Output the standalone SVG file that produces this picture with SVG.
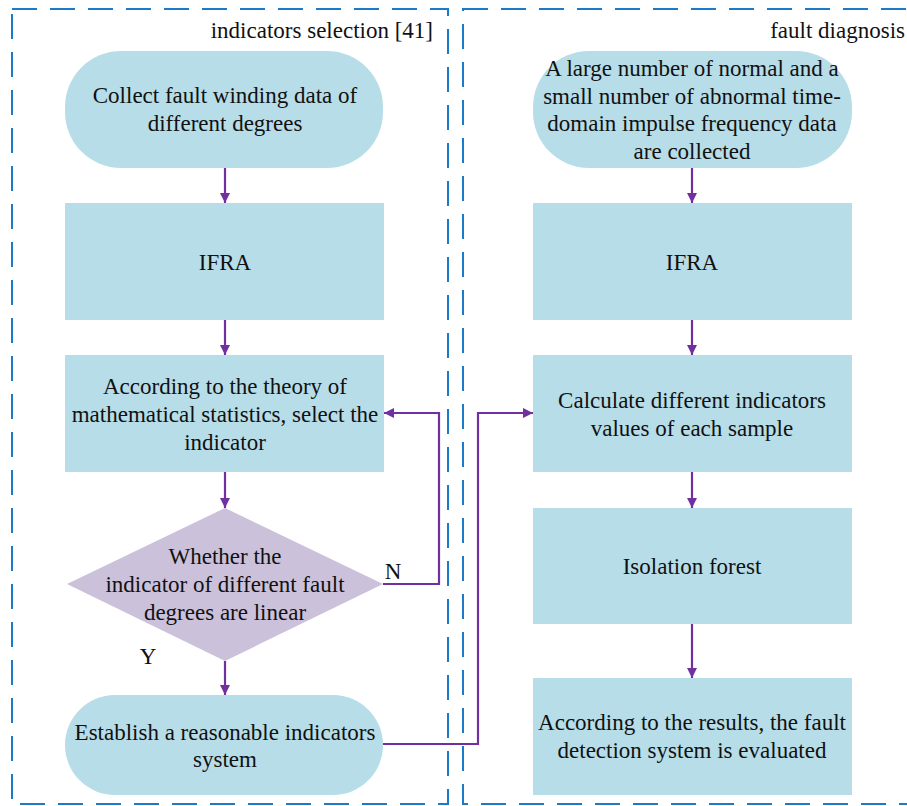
<svg xmlns="http://www.w3.org/2000/svg" width="907" height="806" viewBox="0 0 907 806">
<style>
.t{font-family:'Liberation Serif','Times New Roman',serif;font-size:23px;fill:#111;text-anchor:middle}
.n{fill:#B7DDE8;stroke:none}
.d{fill:#CCC1DA;stroke:none}
.c{fill:none;stroke:#7030A0;stroke-width:2.2}
.b{fill:none;stroke:#1B7BC8;stroke-width:2;stroke-dasharray:25 13}
</style>
<defs>
<marker id="ah" viewBox="0 0 10 10" refX="10" refY="5" markerWidth="10" markerHeight="10" markerUnits="userSpaceOnUse" orient="auto">
<path d="M0,0 L10,5 L0,10 Z" fill="#7030A0"/>
</marker>
</defs>
<g id="groups">
<rect class="b" x="12" y="9" width="436" height="795"/>
<rect class="b" x="463" y="9" width="460" height="795"/>
<text class="t" x="433" y="38" style="text-anchor:end">indicators selection [41]</text>
<text class="t" x="905" y="38" style="text-anchor:end">fault diagnosis</text>
</g>
<g id="connectors">
<line class="c" x1="225" y1="168" x2="225" y2="203" marker-end="url(#ah)"/>
<line class="c" x1="225" y1="320" x2="225" y2="355" marker-end="url(#ah)"/>
<line class="c" x1="225" y1="472" x2="225" y2="508" marker-end="url(#ah)"/>
<line class="c" x1="225" y1="661" x2="225" y2="695" marker-end="url(#ah)"/>
<polyline class="c" points="383,584 439,584 439,413 384,413" marker-end="url(#ah)"/>
<polyline class="c" points="383,744 478,744 478,413 533,413" marker-end="url(#ah)"/>
<line class="c" x1="692" y1="168" x2="692" y2="203" marker-end="url(#ah)"/>
<line class="c" x1="692" y1="320" x2="692" y2="355" marker-end="url(#ah)"/>
<line class="c" x1="692" y1="472" x2="692" y2="508" marker-end="url(#ah)"/>
<line class="c" x1="692" y1="624" x2="692" y2="678" marker-end="url(#ah)"/>
<text class="t" x="393" y="579">N</text>
<text class="t" x="148" y="664">Y</text>
</g>
<g id="n1">
<rect class="n" x="65" y="51" width="318" height="117" rx="56" ry="56"/>
<text class="t" x="225" y="103">Collect fault winding data of</text>
<text class="t" x="225" y="131">different degrees</text>
</g>
<g id="n2">
<rect class="n" x="65" y="203" width="319" height="117"/>
<text class="t" x="225" y="270">IFRA</text>
</g>
<g id="n3">
<rect class="n" x="65" y="355" width="319" height="117"/>
<text class="t" x="225" y="394">According to the theory of</text>
<text class="t" x="225" y="422">mathematical statistics, select the</text>
<text class="t" x="225" y="450">indicator</text>
</g>
<g id="n4">
<polygon class="d" points="225,508 383,584 225,661 67,584"/>
<text class="t" x="225" y="564">Whether the</text>
<text class="t" x="225" y="592">indicator of different fault</text>
<text class="t" x="225" y="620">degrees are linear</text>
</g>
<g id="n5">
<rect class="n" x="65" y="695" width="318" height="100" rx="50" ry="50"/>
<text class="t" x="225" y="740">Establish a reasonable indicators</text>
<text class="t" x="225" y="767">system</text>
</g>
<g id="m1">
<rect class="n" x="533" y="51" width="319" height="117" rx="56" ry="56"/>
<text class="t" x="692" y="76">A large number of normal and a</text>
<text class="t" x="692" y="104">small number of abnormal time-</text>
<text class="t" x="692" y="131">domain impulse frequency data</text>
<text class="t" x="692" y="159">are collected</text>
</g>
<g id="m2">
<rect class="n" x="533" y="203" width="319" height="117"/>
<text class="t" x="692" y="270">IFRA</text>
</g>
<g id="m3">
<rect class="n" x="533" y="355" width="319" height="117"/>
<text class="t" x="692" y="408">Calculate different indicators</text>
<text class="t" x="692" y="436">values of each sample</text>
</g>
<g id="m4">
<rect class="n" x="533" y="508" width="319" height="116"/>
<text class="t" x="692" y="574">Isolation forest</text>
</g>
<g id="m5">
<rect class="n" x="533" y="678" width="319" height="117"/>
<text class="t" x="692" y="730">According to the results, the fault</text>
<text class="t" x="692" y="758">detection system is evaluated</text>
</g>
</svg>
